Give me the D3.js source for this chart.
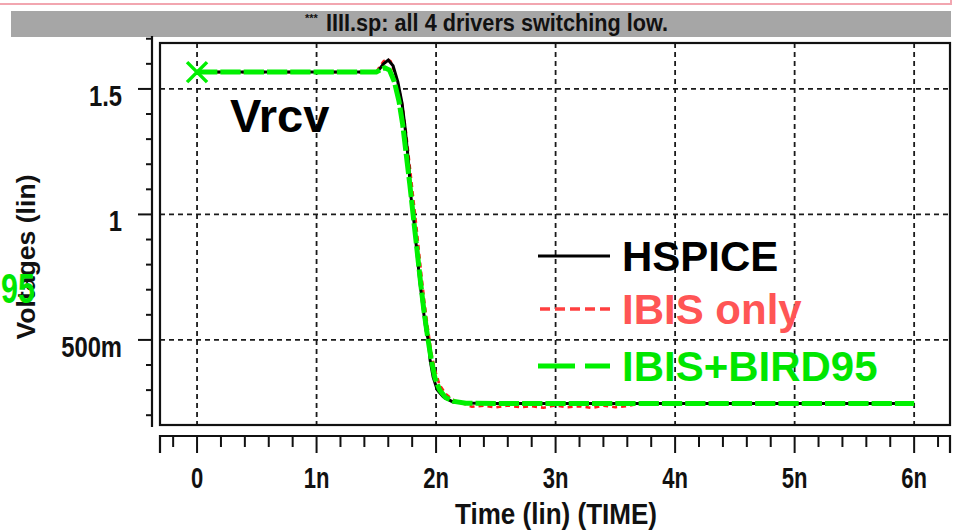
<!DOCTYPE html>
<html>
<head>
<meta charset="utf-8">
<script src="https://cdn.jsdelivr.net/npm/d3@7"></script>
<style>
  html, body { margin: 0; padding: 0; background: #fff; }
  svg { display: block; }
  .narrow { font-family: "Liberation Sans", Arial, sans-serif; font-weight: bold; }
  .wide { font-family: "Liberation Sans", Arial, sans-serif; font-weight: bold; }
</style>
</head>
<body>
<svg id="chart" width="955" height="531"></svg>
<script>
// Receiver voltage waveforms, time in ns, voltage in V
const hspiceT = [0, 1.50, 1.515, 1.56, 1.60, 1.64, 1.68, 1.715, 1.74, 1.77, 1.79, 1.815, 1.84, 1.865, 1.89, 1.915, 1.935, 1.95, 1.975, 2.01, 2.06, 2.14, 2.26, 2.5, 6.0];
const hspiceV = [1.567, 1.567, 1.572, 1.600, 1.615, 1.592, 1.528, 1.444, 1.349, 1.205, 1.07, 0.970, 0.847, 0.727, 0.632, 0.540, 0.50, 0.42, 0.353, 0.30, 0.273, 0.253, 0.249, 0.247, 0.247];

const ibisT = [0, 1.50, 1.53, 1.56, 1.59, 1.62, 1.65, 1.68, 1.72, 1.75, 1.78, 1.81, 1.84, 1.87, 1.90, 1.93, 1.96, 1.99, 2.03, 2.08, 2.14, 2.2, 2.3, 2.4, 2.5, 2.6, 2.7, 2.8, 2.9, 3.0, 3.1, 3.2, 3.3, 3.4, 3.5, 3.6, 3.7, 6.0];
const ibisV = [1.567, 1.567, 1.59, 1.61, 1.62, 1.61, 1.57, 1.52, 1.43, 1.32, 1.19, 1.06, 0.93, 0.79, 0.66, 0.55, 0.45, 0.38, 0.32, 0.285, 0.262, 0.25, 0.234, 0.238, 0.231, 0.239, 0.232, 0.236, 0.230, 0.239, 0.232, 0.236, 0.229, 0.238, 0.232, 0.236, 0.247, 0.247];

const birdT = [0, 1.50, 1.54, 1.57, 1.61, 1.65, 1.69, 1.72, 1.75, 1.78, 1.81, 1.84, 1.87, 1.90, 1.93, 1.96, 1.99, 2.03, 2.08, 2.15, 2.25, 2.5, 6.0];
const birdV = [1.567, 1.567, 1.578, 1.584, 1.575, 1.53, 1.45, 1.36, 1.24, 1.12, 0.99, 0.86, 0.73, 0.61, 0.51, 0.42, 0.35, 0.30, 0.27, 0.255, 0.248, 0.247, 0.247];

const seriesNames = ["HSPICE", "IBIS only", "IBIS+BIRD95"];
const yTickValues = [0.5, 1, 1.5];
const yTickLabels = ["500m", "1", "1.5"];
const xTickValues = [0, 1, 2, 3, 4, 5, 6];
const xTickLabels = ["0", "1n", "2n", "3n", "4n", "5n", "6n"];
const titleText = "IIII.sp: all 4 drivers switching low.";
const signalName = "Vrcv";

const svg = d3.select("#chart");
const frame = { left: 160, top: 43, right: 950, bottom: 425 };

const x = d3.scaleLinear().domain([-0.31, 6.3]).range([frame.left, frame.right]);
const y = d3.scaleLinear().domain([0.161, 1.683]).range([frame.bottom, frame.top]);

// squeeze bold text horizontally to get a condensed face
function condense(sel, factor) {
  sel.each(function () {
    const len = this.getComputedTextLength();
    d3.select(this).attr("textLength", len * factor).attr("lengthAdjust", "spacingAndGlyphs");
  });
  return sel;
}

// stray border line at top of the window
svg.append("line").attr("x1", 0).attr("x2", 952).attr("y1", 4).attr("y2", 4)
  .attr("stroke", "#f2a6b0").attr("stroke-width", 2);
svg.append("line").attr("x1", 951).attr("x2", 951).attr("y1", 0).attr("y2", 5)
  .attr("stroke", "#f2a6b0").attr("stroke-width", 2);

// title bar
svg.append("rect").attr("x", 11).attr("y", 11).attr("width", 940).attr("height", 26).attr("fill", "#a6a6a6");
svg.append("text").attr("class", "narrow").attr("x", 305).attr("y", 22)
  .attr("font-size", 11).attr("fill", "#111").text("***");
svg.append("text").attr("class", "narrow").attr("x", 326).attr("y", 31)
  .attr("font-size", 23).attr("fill", "#111")
  .attr("textLength", 342).attr("lengthAdjust", "spacingAndGlyphs").text(titleText);

// grid
const grid = svg.append("g").attr("stroke", "#1a1a1a").attr("stroke-width", 1.8).attr("stroke-dasharray", "5,4");
grid.selectAll("line.v").data(xTickValues).join("line")
  .attr("x1", d => x(d)).attr("x2", d => x(d)).attr("y1", frame.top).attr("y2", frame.bottom);
grid.selectAll("line.h").data(yTickValues).join("line").attr("class", "h")
  .attr("x1", frame.left).attr("x2", frame.right).attr("y1", d => y(d)).attr("y2", d => y(d));

// plot frame
svg.append("rect").attr("x", frame.left).attr("y", frame.top)
  .attr("width", frame.right - frame.left).attr("height", frame.bottom - frame.top)
  .attr("fill", "none").attr("stroke", "#111").attr("stroke-width", 2.2);

// waveforms
const line = d3.line().x(d => x(d[0])).y(d => y(d[1]));
const zip = (t, v) => t.map((d, i) => [d, v[i]]);

svg.append("path").datum(zip(ibisT, ibisV)).attr("d", line)
  .attr("fill", "none").attr("stroke", "#ff1a1a").attr("stroke-width", 2.6).attr("stroke-dasharray", "5,4");
svg.append("path").datum(zip(hspiceT, hspiceV)).attr("d", line)
  .attr("fill", "none").attr("stroke", "#000").attr("stroke-width", 3);
svg.append("path").datum(zip(birdT, birdV)).attr("d", line)
  .attr("fill", "none").attr("stroke", "#00f000").attr("stroke-width", 5).attr("stroke-dasharray", "20.3,3");

// start marker
const mx = x(birdT[0]), my = y(birdV[0]);
svg.append("path").attr("d", `M${mx - 10},${my - 10}L${mx + 10},${my + 10}M${mx - 10},${my + 10}L${mx + 10},${my - 10}`)
  .attr("stroke", "#00f000").attr("stroke-width", 3.5).attr("fill", "none");

// signal name
svg.append("text").attr("class", "wide").attr("x", 230).attr("y", 132)
  .attr("font-size", 47).attr("fill", "#000").text(signalName);

// y axis
const yAxisX = 152;
const yAxis = svg.append("g").attr("transform", `translate(${yAxisX},0)`);
yAxis.append("line").attr("x1", 0).attr("x2", 0).attr("y1", 36).attr("y2", 427)
  .attr("stroke", "#111").attr("stroke-width", 2.2);
const yMinor = d3.range(2, 18).map(d => d / 10);
yAxis.selectAll("line.minor").data(yMinor).join("line").attr("class", "minor")
  .attr("x1", d => yTickValues.some(v => Math.abs(v - d) < 1e-6) ? -14 : -6).attr("x2", 0)
  .attr("y1", d => y(d)).attr("y2", d => y(d))
  .attr("stroke", "#111").attr("stroke-width", 2);
condense(yAxis.selectAll("text").data(yTickValues).join("text").attr("class", "narrow")
  .attr("x", -30).attr("y", d => y(d) + 17).attr("text-anchor", "end")
  .attr("font-size", 29).attr("fill", "#111").text((d, i) => yTickLabels[i]), 0.82);

// x axis
const xAxisY = 436;
const xAxis = svg.append("g").attr("transform", `translate(0,${xAxisY})`);
xAxis.append("path").attr("d", `M${frame.left},17V0H${frame.right}V17`)
  .attr("fill", "none").attr("stroke", "#111").attr("stroke-width", 2.2);
const xMinor = d3.range(-1, 32).map(d => d / 5);
xAxis.selectAll("line.tick").data(xMinor).join("line").attr("class", "tick")
  .attr("x1", d => x(d)).attr("x2", d => x(d)).attr("y1", 0)
  .attr("y2", d => xTickValues.some(v => Math.abs(v - d) < 1e-6) ? 17 : 11)
  .attr("stroke", "#111").attr("stroke-width", 2);
condense(xAxis.selectAll("text").data(xTickValues).join("text").attr("class", "narrow")
  .attr("x", d => x(d)).attr("y", 52).attr("text-anchor", "middle")
  .attr("font-size", 29).attr("fill", "#111").text((d, i) => xTickLabels[i]), 0.76);

// axis titles
svg.append("text").attr("class", "narrow").attr("x", 556).attr("y", 524).attr("text-anchor", "middle")
  .attr("font-size", 29).attr("fill", "#111")
  .attr("textLength", 202).attr("lengthAdjust", "spacingAndGlyphs").text("Time (lin) (TIME)");
svg.append("text").attr("class", "narrow").attr("transform", "translate(35,257) rotate(-90)")
  .attr("text-anchor", "middle").attr("font-size", 26).attr("fill", "#111")
  .attr("textLength", 165).attr("lengthAdjust", "spacingAndGlyphs").text("Voltages (lin)");

// stray legend fragment at the left edge
svg.append("text").attr("class", "wide").attr("x", 1).attr("y", 303)
  .attr("font-size", 42).attr("fill", "#00e600")
  .attr("textLength", 34).attr("lengthAdjust", "spacingAndGlyphs").text("95");

// legend
const legendRows = [
  { name: seriesNames[0], y: 256, color: "#000", text: "#000" },
  { name: seriesNames[1], y: 309, color: "#ff4040", text: "#ff5555" },
  { name: seriesNames[2], y: 366, color: "#00f000", text: "#00e600" }
];
const lg = svg.append("g");
lg.append("line").attr("x1", 538).attr("x2", 610).attr("y1", legendRows[0].y).attr("y2", legendRows[0].y)
  .attr("stroke", "#000").attr("stroke-width", 3);
lg.append("line").attr("x1", 540).attr("x2", 610).attr("y1", legendRows[1].y).attr("y2", legendRows[1].y)
  .attr("stroke", legendRows[1].color).attr("stroke-width", 3.5).attr("stroke-dasharray", "10,5");
lg.append("line").attr("x1", 538).attr("x2", 610).attr("y1", legendRows[2].y).attr("y2", legendRows[2].y)
  .attr("stroke", legendRows[2].color).attr("stroke-width", 5).attr("stroke-dasharray", "37,10");
lg.selectAll("text").data(legendRows).join("text").attr("class", "wide")
  .attr("x", 622).attr("y", d => d.y + 15).attr("font-size", 42).attr("fill", d => d.text).text(d => d.name);
</script>
</body>
</html>
